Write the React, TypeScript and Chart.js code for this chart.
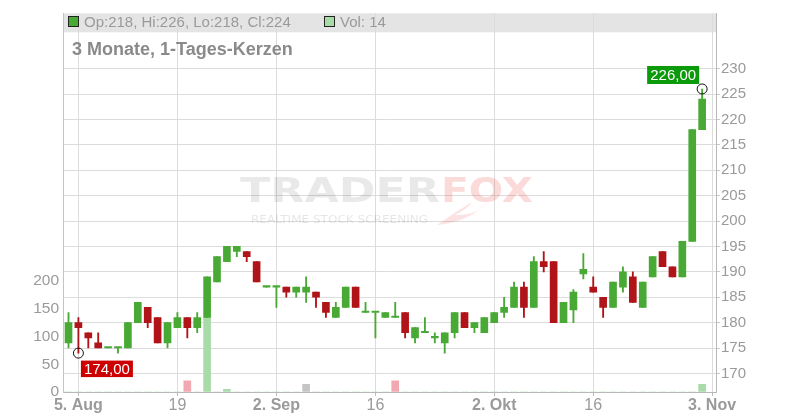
import React, { useEffect, useRef } from "react";
import { Chart, registerables } from "chart.js";

Chart.register(...registerables);

// Trading days (categories)
const tradingDays = [
  "04.08.", "05.08.", "06.08.", "07.08.", "08.08.",
  "11.08.", "12.08.", "13.08.", "14.08.", "15.08.",
  "18.08.", "19.08.", "20.08.", "21.08.", "22.08.",
  "25.08.", "26.08.", "27.08.", "28.08.", "29.08.",
  "01.09.", "02.09.", "03.09.", "04.09.", "05.09.",
  "08.09.", "09.09.", "10.09.", "11.09.", "12.09.",
  "15.09.", "16.09.", "17.09.", "18.09.", "19.09.",
  "22.09.", "23.09.", "24.09.", "25.09.", "26.09.",
  "29.09.", "30.09.", "01.10.", "02.10.", "03.10.",
  "06.10.", "07.10.", "08.10.", "09.10.", "10.10.",
  "13.10.", "14.10.", "15.10.", "16.10.", "17.10.",
  "20.10.", "21.10.", "22.10.", "23.10.", "24.10.",
  "27.10.", "28.10.", "29.10.", "30.10.", "31.10.",
];

const opens = [
  176, 180, 178, 176, 175, 175, 175, 180, 183, 181,
  176, 179, 181, 179, 181, 188, 192, 194, 194, 192,
  187, 187, 187, 186, 186, 186, 184, 181, 183, 187,
  182, 182, 181, 181, 182, 177, 178, 177, 176, 178,
  182, 179, 178, 180, 182, 183, 187, 183, 192, 192,
  180, 182.5, 189.6, 187, 185, 183, 187, 189, 183, 189,
  194, 191, 189, 196, 218,
];
const highs = [
  182, 181, 178, 178, 175, 175, 180, 184, 183, 181,
  180, 182, 181, 182, 189, 193, 195, 195, 194, 192,
  187, 187, 187, 187, 189, 186, 184, 184, 187, 187,
  184, 182, 182, 184, 182, 179, 181, 178, 178, 182,
  182, 180, 181, 182, 185, 188, 188, 193, 194, 192,
  184, 186.5, 193.6, 189, 185, 188, 191, 190, 188, 193,
  194, 191, 196, 218, 226,
];
const lows = [
  175, 174, 175, 175, 175, 174, 175, 180, 179, 176,
  175, 179, 177, 178, 181, 188, 192, 193, 192, 188,
  187, 183, 185, 185, 184, 183, 181, 181, 183, 183,
  182, 177, 181, 181, 177, 176, 178, 176, 174, 177,
  179, 178, 178, 180, 181, 183, 181, 183, 190, 180,
  180, 180, 188.6, 186, 181, 183, 186, 184, 183, 189,
  191, 189, 189, 196, 218,
];
const closes = [
  180, 179, 177, 175, 175, 175, 180, 184, 180, 176,
  180, 181, 179, 181, 189, 193, 195, 195, 193, 188,
  187, 187, 186, 187, 187, 185, 182, 183, 187, 183,
  182, 182, 182, 181, 178, 179, 178, 177, 178, 182,
  179, 180, 181, 182, 183, 187, 183, 192, 191, 180,
  184, 186, 190.5, 186, 183, 188, 190, 184, 188, 193,
  191, 189, 196, 218, 224,
];
const volumes = [
  0, 0, 0, 0, 0, 0, 0, 0, 0, 0,
  0, 0, 20, 0, 134, 0, 5, 0, 0, 0,
  0, 0, 0, 0, 14, 0, 0, 0, 0, 0,
  0, 0, 0, 20, 0, 0, 0, 0, 0, 0,
  0, 0, 0, 0, 0, 0, 0, 0, 0, 0,
  0, 0, 0, 0, 0, 0, 0, 0, 0, 0,
  0, 0, 0, 0, 14,
];
const volumeTone = [
  "up", "up", "up", "up", "up", "up", "up", "up", "up", "up",
  "up", "up", "down", "up", "up", "up", "up", "up", "up", "up",
  "up", "up", "up", "up", "flat", "up", "up", "up", "up", "up",
  "up", "up", "up", "down", "up", "up", "up", "up", "up", "up",
  "up", "up", "up", "up", "up", "up", "up", "up", "up", "up",
  "up", "up", "up", "up", "up", "up", "up", "up", "up", "up",
  "up", "up", "up", "up", "up",
];

const xTickDays = ["05.08.", "19.08.", "02.09.", "16.09.", "02.10.", "16.10.", "03.11."];
const xTickLabels = ["5. Aug", "19", "2. Sep", "16", "2. Okt", "16", "3. Nov"];
const xTickBold = [true, false, true, false, true, false, true];
const priceTicks = [170, 175, 180, 185, 190, 195, 200, 205, 210, 215, 220, 225, 230];
const volumeTicks = [0, 50, 100, 150, 200];

const FONT = "'Liberation Sans', Arial, sans-serif";
const GREEN = "#48a934";
const RED = "#b01418";
const TONES: Record<string, string> = { up: "#a9dba9", down: "#f1a8b1", flat: "#c4c4c4" };

export default function App() {
  const ref = useRef<HTMLCanvasElement>(null);

  useEffect(() => {
    const canvas = ref.current;
    if (!canvas) return;
    const n = opens.length;
    const up = closes.map((c, i) => c >= opens[i]);
    const xTickIdx = xTickDays.map((d) => {
      const k = tradingDays.indexOf(d);
      return k >= 0 ? k : tradingDays.length;
    });

    const body = opens.map((o, i) => ({ x: i, y: [o, closes[i]] }));
    const wick = lows.map((l, i) => ({ x: i, y: [l, highs[i]] }));
    const vol = volumes.map((v, i) => ({ x: i, y: v }));

    let lowIdx = 0;
    let highIdx = 0;
    for (let i = 0; i < n; i++) {
      if (lows[i] < lows[lowIdx]) lowIdx = i;
      if (highs[i] > highs[highIdx]) highIdx = i;
    }
    const fmt = (v: number) => v.toFixed(2).replace(".", ",");

    const decor = {
      id: "decor",
      beforeDraw(chart: any) {
        const { ctx, chartArea } = chart;
        ctx.save();
        ctx.fillStyle = "#e4e4e4";
        ctx.fillRect(chartArea.left, chartArea.top, chartArea.right - chartArea.left, 19);
        ctx.restore();
      },
      beforeDatasetsDraw(chart: any) {
        const { ctx } = chart;
        ctx.save();
        ctx.textBaseline = "alphabetic";
        const drawFit = (text: string, x: number, y: number, w: number, font: string, color: string) => {
          ctx.font = font;
          const m = ctx.measureText(text).width;
          ctx.save();
          ctx.translate(x, y);
          ctx.scale(w / m, 1);
          ctx.fillStyle = color;
          ctx.fillText(text, 0, 0);
          ctx.restore();
        };
        drawFit("TRADER", 240, 202, 200, `bold 34px 'DejaVu Sans', sans-serif`, "rgba(0,0,0,0.085)");
        drawFit("FOX", 441, 202, 92, `bold 34px 'DejaVu Sans', sans-serif`, "rgba(235,70,70,0.2)");
        drawFit("REALTIME STOCK SCREENING", 251, 223, 177, `10px 'DejaVu Sans', sans-serif`, "rgba(0,0,0,0.1)");
        // fox tail swoosh
        ctx.fillStyle = "rgba(235,70,70,0.15)";
        ctx.beginPath();
        ctx.moveTo(437, 225);
        ctx.quadraticCurveTo(470, 222, 490, 200);
        ctx.quadraticCurveTo(478, 216, 455, 215);
        ctx.quadraticCurveTo(470, 207, 472, 202);
        ctx.quadraticCurveTo(455, 212, 437, 225);
        ctx.fill();
        ctx.restore();
      },
      afterDraw(chart: any) {
        const { ctx, scales } = chart;
        const xs = scales.x;
        const ys = scales.y;
        ctx.save();
        // title
        ctx.fillStyle = "#8a8a8a";
        ctx.font = `bold 18px ${FONT}`;
        ctx.textBaseline = "alphabetic";
        ctx.textAlign = "left";
        ctx.fillText("3 Monate, 1-Tages-Kerzen", 72, 54.5);
        // legend in header band
        const last = n - 1;
        ctx.fillStyle = GREEN;
        ctx.fillRect(68.5, 16.5, 10, 10);
        ctx.strokeStyle = "#222";
        ctx.lineWidth = 1;
        ctx.strokeRect(68.5, 16.5, 10, 10);
        ctx.fillStyle = "#9a9a9a";
        ctx.font = `15px ${FONT}`;
        ctx.fillText(
          `Op:${opens[last]}, Hi:${highs[last]}, Lo:${lows[last]}, Cl:${closes[last]}`,
          84,
          26.5
        );
        ctx.fillStyle = TONES.up;
        ctx.fillRect(324.5, 16.5, 10, 10);
        ctx.strokeRect(324.5, 16.5, 10, 10);
        ctx.fillStyle = "#9a9a9a";
        ctx.fillText(`Vol: ${volumes[last]}`, 340, 26.5);

        // low marker
        const lx = xs.getPixelForValue(lowIdx);
        const ly = ys.getPixelForValue(lows[lowIdx]);
        ctx.beginPath();
        ctx.arc(lx, ly, 5, 0, Math.PI * 2);
        ctx.strokeStyle = "#111";
        ctx.stroke();
        ctx.fillStyle = "#cc0000";
        ctx.fillRect(lx + 2.5, ly + 7.5, 52, 16.5);
        ctx.fillStyle = "#ffffff";
        ctx.font = `15px ${FONT}`;
        ctx.textAlign = "center";
        ctx.textBaseline = "middle";
        ctx.fillText(fmt(lows[lowIdx]), lx + 28.5, ly + 16.3);

        // high marker
        const hx = xs.getPixelForValue(highIdx);
        const hy = ys.getPixelForValue(highs[highIdx]);
        ctx.beginPath();
        ctx.arc(hx, hy, 5, 0, Math.PI * 2);
        ctx.strokeStyle = "#111";
        ctx.stroke();
        ctx.fillStyle = "#0a9a0a";
        ctx.fillRect(hx - 55, hy - 23, 52, 18);
        ctx.fillStyle = "#ffffff";
        ctx.fillText(fmt(highs[highIdx]), hx - 29, hy - 13.5);
        ctx.restore();
      },
    };

    const chart = new Chart(canvas, {
      type: "bar",
      data: {
        datasets: [
          {
            label: "body",
            data: body as any,
            backgroundColor: up.map((u) => (u ? GREEN : RED)),
            borderWidth: 0,
            barThickness: 7,
            minBarLength: 1.5,
            grouped: false,
            xAxisID: "x",
            yAxisID: "y",
            order: 1,
          },
          {
            label: "wick",
            data: wick as any,
            backgroundColor: up.map((u) => (u ? GREEN : RED)),
            borderWidth: 0,
            barThickness: 1.2,
            grouped: false,
            xAxisID: "x",
            yAxisID: "y",
            order: 2,
          },
          {
            label: "vol",
            data: vol as any,
            backgroundColor: volumeTone.map((t) => TONES[t]),
            borderWidth: 0,
            barThickness: 7,
            grouped: false,
            xAxisID: "x",
            yAxisID: "yVol",
            order: 3,
          },
        ],
      },
      options: {
        animation: false,
        responsive: false,
        devicePixelRatio: 1,
        layout: { padding: { top: 11, left: 0, right: 0, bottom: 0 } },
        plugins: {
          legend: { display: false },
          tooltip: { enabled: false },
          title: { display: false },
        },
        scales: {
          x: {
            type: "linear",
            position: "bottom",
            min: -0.556,
            max: 65.4,
            offset: false,
            bounds: "data",
            grid: { color: "#dcdcdc", offset: false, drawTicks: true, tickLength: 4, tickColor: "#bcbcbc" },
            border: { color: "#b8b8b8" },
            ticks: {
              padding: 0,
              color: "#9a9a9a",
              autoSkip: false,
              maxRotation: 0,
              font: (ctx: any) => ({
                family: FONT,
                size: 16,
                weight: xTickBold[ctx.index] ? "bold" : "normal",
              }),
              callback: (_v: any, i: number) => xTickLabels[i],
            },
            afterBuildTicks: (s: any) => {
              s.ticks = xTickIdx.map((v) => ({ value: v }));
            },
            afterFit: (s: any) => {
              s.height = 28;
            },
          },
          y: {
            type: "linear",
            position: "right",
            min: 166.34,
            max: 240.9,
            bounds: "data",
            beginAtZero: false,
            grid: { color: "#dcdcdc", tickLength: 4, tickColor: "#c8c8c8" },
            border: { color: "#b8b8b8" },
            ticks: { padding: 1, color: "#9a9a9a", font: { family: FONT, size: 15 } },
            afterBuildTicks: (s: any) => {
              s.ticks = priceTicks.map((v) => ({ value: v }));
            },
            afterFit: (s: any) => {
              s.width = 84;
            },
          },
          yVol: {
            type: "linear",
            position: "left",
            min: 0,
            max: 683,
            bounds: "data",
            beginAtZero: false,
            grid: { drawOnChartArea: false, drawTicks: false },
            border: { color: "#c4c4c4" },
            ticks: { padding: 4, color: "#9a9a9a", font: { family: FONT, size: 15.5 } },
            afterBuildTicks: (s: any) => {
              s.ticks = volumeTicks.map((v) => ({ value: v }));
            },
            afterFit: (s: any) => {
              s.width = 63;
            },
          },
        },
      } as any,
      plugins: [decor],
    });

    return () => chart.destroy();
  }, []);

  return (
    <div style={{ position: "fixed", left: 0, top: 0, width: 800, height: 420, background: "#fff" }}>
      <canvas ref={ref} width={800} height={420} style={{ width: 800, height: 420, display: "block" }} />
    </div>
  );
}
